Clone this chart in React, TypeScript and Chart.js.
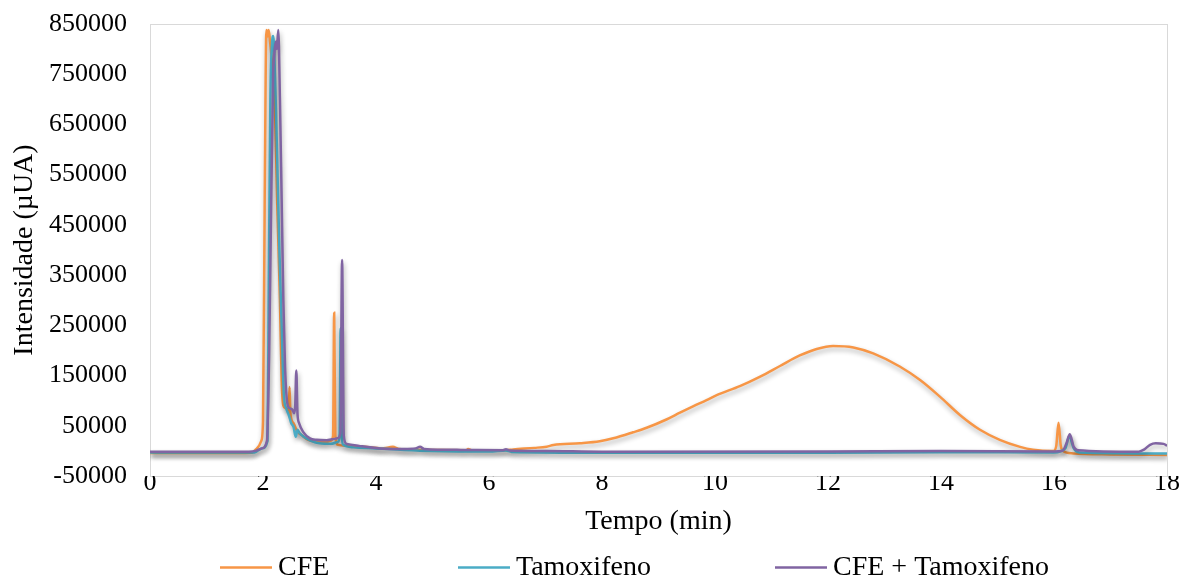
import React, { useEffect, useRef } from "react";
import { Chart, registerables } from "chart.js";

Chart.register(...registerables);

// Retention time (min) / intensity (µUA) pairs
const cfeSeries: [number, number][] = [
  [0, -4000], [1.5, -4000], [1.8, -3500], [1.9, 6000], [1.97, 20000], [2.0, 60000],
  [2.03, 500000], [2.06, 838000], [2.08, 825000], [2.1, 838000], [2.12, 820000],
  [2.17, 760000], [2.21, 690000], [2.25, 500000], [2.3, 300000], [2.33, 140000],
  [2.36, 90000], [2.4, 85000], [2.455, 80000], [2.47, 127000], [2.485, 75000],
  [2.54, 55000], [2.6, 40000], [2.7, 30000], [2.8, 22000], [2.95, 18000], [3.1, 17000],
  [3.2, 20000], [3.24, 30000], [3.26, 275000], [3.28, 30000], [3.33, 12000],
  [3.5, 10000], [3.8, 8000], [4.1, 5000], [4.3, 8000], [4.4, 4000], [5.0, 2000],
  [5.6, 1500], [5.63, 4000], [5.7, 1500], [6.3, 1500], [6.43, 3000], [6.8, 6000],
  [7.02, 8400], [7.14, 11700], [7.61, 15000], [7.96, 19000], [8.2, 25000],
  [8.55, 37000], [8.79, 46000], [9.15, 63000], [9.38, 76000], [9.62, 89000],
  [9.85, 101000], [10.03, 111000], [10.44, 129000], [10.8, 148000], [11.15, 169000],
  [11.5, 190000], [11.8, 203000], [12.09, 209000], [12.45, 206000], [12.8, 194000],
  [13.27, 168000], [13.63, 141000], [13.98, 108000], [14.34, 71000], [14.69, 42000],
  [15.04, 22000], [15.4, 8000], [15.63, 2500], [15.99, 0], [16.04, 10000],
  [16.08, 56000], [16.12, 10000], [16.16, 0], [16.34, -5000], [17, -7000], [18, -8000],
];

const tamoxifenoSeries: [number, number][] = [
  [0, -3000], [1.85, -3000], [1.98, 5000], [2.08, 20000], [2.1, 300000], [2.13, 700000],
  [2.16, 810000], [2.18, 826000], [2.2, 790000], [2.23, 680000], [2.26, 540000],
  [2.29, 400000], [2.33, 250000], [2.37, 110000], [2.41, 85000], [2.46, 70000],
  [2.5, 55000], [2.54, 48000], [2.58, 28000], [2.61, 42000], [2.65, 35000],
  [2.72, 28000], [2.85, 20000], [3.0, 15000], [3.2, 14000], [3.33, 18000],
  [3.355, 30000], [3.375, 244000], [3.395, 30000], [3.42, 12000], [3.6, 7000],
  [4.0, 5000], [4.5, 2000], [5.0, 0], [6.0, -1000], [6.3, 1000], [6.4, -2000],
  [8.0, -3500], [12.0, -3500], [14.0, -2500], [16.0, -3000], [16.2, 5000],
  [16.27, 29000], [16.35, 5000], [16.45, -3000], [18, -5000],
];

const comboSeries: [number, number][] = [
  [0, -1500], [1.75, -1500], [1.87, 0], [1.98, 5000], [2.07, 20000], [2.11, 200000],
  [2.14, 450000], [2.18, 750000], [2.2, 790000], [2.23, 815000], [2.245, 800000],
  [2.27, 838000], [2.3, 698000], [2.33, 500000], [2.36, 300000], [2.39, 167000],
  [2.43, 95000], [2.47, 85000], [2.52, 82000], [2.55, 75000], [2.57, 90000],
  [2.59, 160000], [2.61, 75000], [2.64, 55000], [2.71, 38000], [2.83, 25000],
  [2.95, 22000], [3.13, 21000], [3.22, 23000], [3.32, 25000], [3.37, 35000],
  [3.4, 380000], [3.43, 30000], [3.48, 14000], [3.7, 10000], [4.07, 5000],
  [4.5, 4000], [4.7, 5000], [4.78, 8000], [4.85, 4000], [5.5, 2000], [6.25, 1500],
  [6.3, 3500], [6.36, 1000], [7, 0], [8, -1500], [12, -1000], [14, 0], [16, -1000],
  [16.15, 0], [16.22, 15000], [16.28, 33000], [16.35, 8000], [16.42, 1500],
  [17.5, -1500], [17.6, 3000], [17.7, 12000], [17.8, 15000], [17.94, 14000], [18, 10000],
];

const seriesLabels = ["CFE", "Tamoxifeno", "CFE + Tamoxifeno"];
const seriesColors = ["#F79646", "#4BACC6", "#8064A2"];
const xTitle = "Tempo (min)";
const yTitle = "Intensidade (µUA)";

const FONT = "'Liberation Serif', 'Times New Roman', serif";
const LEGEND_X = [220, 458, 775];
const LEGEND_Y = 567.5;

const shadowPlugin = {
  id: "lineShadow",
  beforeDatasetsDraw(chart: any) {
    const c = chart.ctx;
    c.save();
    c.shadowColor = "rgba(0,0,0,0.32)";
    c.shadowBlur = 5;
    c.shadowOffsetX = 1;
    c.shadowOffsetY = 3;
  },
  afterDatasetsDraw(chart: any) {
    chart.ctx.restore();
  },
};

const legendPlugin = {
  id: "bottomLegend",
  afterDraw(chart: any) {
    const c = chart.ctx;
    c.save();
    c.font = `28px ${FONT}`;
    c.textBaseline = "middle";
    c.textAlign = "left";
    chart.data.datasets.forEach((ds: any, i: number) => {
      const x = LEGEND_X[i];
      c.strokeStyle = ds.borderColor;
      c.lineWidth = 2.5;
      c.beginPath();
      c.moveTo(x, LEGEND_Y);
      c.lineTo(x + 52, LEGEND_Y);
      c.stroke();
      c.fillStyle = "#000";
      c.fillText(ds.label, x + 58, LEGEND_Y);
    });
    c.restore();
  },
};

export default function App() {
  const ref = useRef<HTMLCanvasElement | null>(null);

  useEffect(() => {
    document.body.style.margin = "0";
    const canvas = ref.current;
    if (!canvas) return;
    const all = [cfeSeries, tamoxifenoSeries, comboSeries];
    const chart = new Chart(canvas, {
      type: "line",
      data: {
        datasets: all.map((s, i) => ({
          label: seriesLabels[i],
          data: s.map(([x, y]) => ({ x, y })),
          borderColor: seriesColors[i],
          backgroundColor: seriesColors[i],
          borderWidth: 2.5,
          pointRadius: 0,
          cubicInterpolationMode: "monotone" as const,
          order: 3 - i,
          fill: false,
        })),
      },
      options: {
        responsive: false,
        animation: false,
        layout: { padding: { top: 24, right: 15, bottom: 40, left: 0 } },
        plugins: {
          legend: { display: false },
          tooltip: { enabled: false },
        },
        scales: {
          x: {
            type: "linear",
            min: 0,
            max: 18,
            ticks: {
              stepSize: 2,
              padding: -8,
              color: "#000",
              font: { family: FONT, size: 26 },
              maxRotation: 0,
            },
            grid: {
              drawTicks: false,
              color: (ctx: any) => (ctx.tick && ctx.tick.value === 18 ? "#d9d9d9" : "rgba(0,0,0,0)"),
            },
            border: { display: true, color: "#d9d9d9" },
            title: {
              display: true,
              text: xTitle,
              color: "#000",
              font: { family: FONT, size: 28 },
              padding: { top: 0, bottom: 1 },
            },
            afterFit: (s: any) => {
              s.height = 63;
            },
          },
          y: {
            type: "linear",
            min: -50000,
            max: 850000,
            ticks: {
              stepSize: 100000,
              padding: 23,
              color: "#000",
              font: { family: FONT, size: 26 },
              callback: (v: any) => String(v),
            },
            grid: {
              drawTicks: false,
              color: (ctx: any) => (ctx.tick && ctx.tick.value === 850000 ? "#d9d9d9" : "rgba(0,0,0,0)"),
            },
            border: { display: true, color: "#d9d9d9" },
            title: {
              display: true,
              text: yTitle,
              color: "#000",
              font: { family: FONT, size: 28 },
              padding: { top: 8, bottom: 0 },
            },
            afterFit: (s: any) => {
              s.width = 150;
              s.paddingTop = 0;
              s.paddingBottom = 0;
            },
          },
        },
      },
      plugins: [shadowPlugin, legendPlugin],
    });
    return () => chart.destroy();
  }, []);

  return (
    <div style={{ width: 1182, height: 579, background: "#fff" }}>
      <canvas ref={ref} width={1182} height={579} style={{ display: "block" }} />
    </div>
  );
}
